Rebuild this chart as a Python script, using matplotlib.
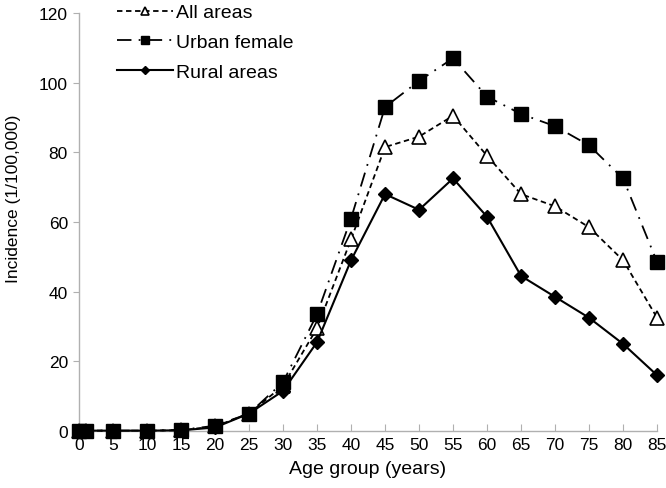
import matplotlib.pyplot as plt

plt.rcParams['font.family'] = ['Liberation Sans', 'DejaVu Sans']

ages = [0, 1, 5, 10, 15, 20, 25, 30, 35, 40, 45, 50, 55, 60, 65, 70, 75, 80, 85]
all_areas = [0.1, 0.1, 0.1, 0.1, 0.2, 1.3, 5.0, 13.0, 29.5, 55.0, 81.5, 84.5, 90.5, 79.0, 68.0, 64.5, 58.5, 49.0, 32.5]
urban_female = [0.1, 0.1, 0.1, 0.1, 0.3, 1.5, 5.0, 14.0, 33.5, 61.0, 93.0, 100.5, 107.0, 96.0, 91.0, 87.5, 82.0, 72.5, 48.5]
rural_areas = [0.1, 0.1, 0.1, 0.1, 0.2, 1.0, 5.0, 11.5, 25.5, 49.0, 68.0, 63.5, 72.5, 61.5, 44.5, 38.5, 32.5, 25.0, 16.0]

fig = plt.figure(figsize=(6.66, 4.89), dpi=100)
ax = fig.add_axes([0.1186, 0.1166, 0.868, 0.8548])

ax.plot(ages, all_areas, linestyle=(0, (3, 2)), color='black', lw=1.3,
        marker='^', markersize=10, markerfacecolor='white', markeredgecolor='black',
        markeredgewidth=1.2, label='All areas', clip_on=False, zorder=3)
ax.plot(ages, urban_female, linestyle=(0, (8, 4, 1, 4)), color='black', lw=1.3,
        marker='s', markersize=9.5, label='Urban female', clip_on=False, zorder=3)
ax.plot(ages, rural_areas, linestyle='-', color='black', lw=1.5,
        marker='D', markersize=7, label='Rural areas', clip_on=False, zorder=4)

ax.set_xlim(0, 85)
ax.set_ylim(0, 120)
ax.set_xticks(range(0, 90, 5))
ax.set_yticks(range(0, 140, 20))
ax.set_xlabel('Age group (years)', fontsize=14, labelpad=6)
ax.set_ylabel('Incidence (1/100,000)', fontsize=12.5)
ax.yaxis.set_label_coords(-0.1, 0.557)

for s in ['top', 'right']:
    ax.spines[s].set_visible(False)
for s in ['left', 'bottom']:
    ax.spines[s].set_color('#b0b0b0')
    ax.spines[s].set_linewidth(1)
ax.tick_params(axis='x', direction='in', length=5, color='#b0b0b0', labelsize=12.5, pad=4)
ax.tick_params(axis='y', direction='out', length=4, color='#b0b0b0', labelsize=12.5, pad=4)

leg = ax.legend(loc='upper left', bbox_to_anchor=(0.066, 1.022), frameon=False,
                fontsize=14, handlelength=2.85, handletextpad=0.2, labelspacing=0.62,
                borderpad=0, borderaxespad=0, markerscale=0.6)

fig.savefig('out.png', dpi=100)
